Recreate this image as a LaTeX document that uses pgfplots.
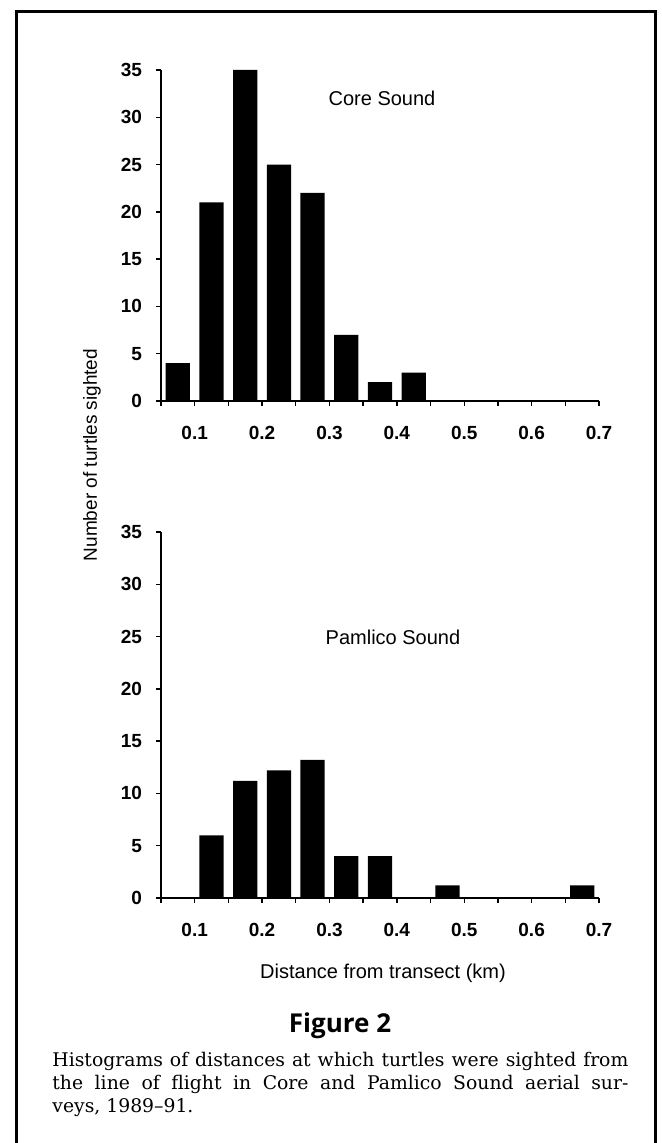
\documentclass[border=0pt]{standalone}
\usepackage{pgfplots}
\pgfplotsset{compat=1.18}
\usepackage{fontspec}
\setmainfont{Liberation Sans}
\newfontfamily\capfont[Ligatures=TeX]{DejaVu Serif}
\newfontfamily\figfont{Open Sans}

\pgfplotsset{
  hist/.style={
    scale only axis,
    width=219pt,
    xmin=0.05, xmax=0.7,
    ymin=0, ymax=35,
    axis x line*=bottom,
    axis y line*=left,
    axis line style={-, line width=0.9pt},
    tick align=outside,
    major tick length=2.5pt,
    minor tick length=2.5pt,
    tick style={black, line width=0.7pt},
    xtick={0.1,0.2,0.3,0.4,0.5,0.6,0.7},
    xticklabels={0.1,0.2,0.3,0.4,0.5,0.6,0.7},
    minor xtick={0.05,0.15,0.25,0.35,0.45,0.55,0.65},
    ytick={0,5,...,35},
    tick label style={font=\fontsize{9.5}{10}\selectfont\bfseries},
    yticklabel style={/pgf/number format/assume math mode=true, xshift=-3.5pt},
    xticklabel style={yshift=-6.5pt},
    ybar,
    bar width=0.036,
  }
}

\begin{document}
\begin{tikzpicture}
\useasboundingbox (0,0) rectangle (330.5pt,571.5pt);
\draw[line width=1.5pt] (8pt,-5pt) -- (8pt,565.5pt) -- (327.5pt,565.5pt) -- (327.5pt,-5pt);

% Core Sound
\begin{axis}[hist, height=165.5pt, at={(80.5pt,371pt)}, anchor=south west]
\addplot[fill=black, draw=none] coordinates {
  (0.075,4) (0.125,21) (0.175,35) (0.225,25) (0.275,22) (0.325,7) (0.375,2)
  (0.425,3) (0.475,0) (0.525,0) (0.575,0) (0.625,0) (0.675,0)
};
\end{axis}

% Pamlico Sound
\begin{axis}[hist, height=183pt, at={(80.5pt,122.5pt)}, anchor=south west]
\addplot[fill=black, draw=none] coordinates {
  (0.075,0) (0.125,6) (0.175,11.2) (0.225,12.2) (0.275,13.2) (0.325,4) (0.375,4)
  (0.425,0) (0.475,1.2) (0.525,0) (0.575,0) (0.625,0) (0.675,1.2)
};
\end{axis}

\node[font=\fontsize{10}{12}\selectfont] at (191pt,522.5pt) {Core Sound};
\node[font=\fontsize{10}{12}\selectfont] at (196.5pt,253pt) {Pamlico Sound};
\node[font=\fontsize{10}{12}\selectfont] at (191.5pt,85pt) {Distance from transect (km)};
\node[font=\fontsize{9.5}{12}\selectfont, rotate=90] at (46pt,344pt) {Number of turtles sighted};

\node[font=\figfont\fontsize{13}{15}\selectfont\bfseries] at (170pt,58.5pt) {Figure 2};
\node[anchor=north west, inner sep=0pt, align=left,
      font=\capfont\fontsize{9.4}{11.5}\selectfont] at (26pt,45.5pt)
  {\makebox[288pt][s]{Histograms of distances at which turtles were sighted from}\\
   \makebox[288pt][s]{the line of flight in Core and Pamlico Sound aerial sur-}\\
   veys, 1989--91.};
\end{tikzpicture}
\end{document}
